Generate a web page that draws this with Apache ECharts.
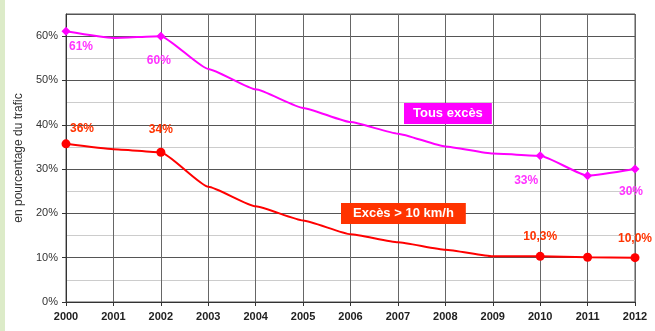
<!DOCTYPE html>
<html><head><meta charset="utf-8">
<script src="https://cdn.jsdelivr.net/npm/echarts@6/dist/echarts.min.js"></script>
<style>html,body{margin:0;padding:0;background:#fff}#c{width:655px;height:331px}</style>
</head><body><div id="c"></div>
<script>
const years = ['2000','2001','2002','2003','2004','2005','2006','2007','2008','2009','2010','2011','2012'];
const tousExces = [61.1, 59.6, 60.0, 52.6, 48.0, 43.8, 40.6, 38.0, 35.1, 33.5, 33.0, 28.5, 30.0];
const excesPlus10 = [35.7, 34.5, 33.8, 26.0, 21.6, 18.4, 15.3, 13.5, 11.8, 10.3, 10.3, 10.1, 10.0];
const tousLabels = ['61%', null, '60%', null, null, null, null, null, null, null, '33%', null, '30%'];
const excesLabels = ['36%', null, '34%', null, null, null, null, null, null, null, '10,3%', null, '10,0%'];
const tousMarkers = [1,0,1,0,0,0,0,0,0,0,1,1,1];
const excesMarkers = [1,0,1,0,0,0,0,0,0,0,1,1,1];

// label nudges (layout only)
const tousNudge = {0: [15, 0], 2: [-2, 9], 10: [-14, 9], 12: [-4, 7]};
const excesNudge = {0: [16, 0], 2: [0, -7], 10: [0, -4], 12: [0, -4]};

function build(vals, labels, markers, labelColor, pos, nudge) {
  return vals.map((v, i) => ({
    value: v,
    symbolSize: markers[i] ? 9 : 0,
    label: labels[i] ? {show: true, formatter: labels[i], position: pos, offset: nudge[i] || [0, 0],
      color: labelColor, fontFamily: 'Liberation Sans', fontSize: 12, fontWeight: 'bold'} : {show: false}
  }));
}

const chart = echarts.init(document.getElementById('c'));
chart.setOption({
  animation: false,
  backgroundColor: '#fff',
  grid: {left: 66, right: 20, top: 14, bottom: 29, show: true, borderColor: '#555', borderWidth: 1},
  xAxis: {
    type: 'category', data: years, boundaryGap: false,
    axisLine: {lineStyle: {color: '#333'}},
    axisTick: {show: true, lineStyle: {color: '#333'}, length: 4},
    axisLabel: {color: '#222', fontFamily: 'Liberation Sans', fontSize: 11, fontWeight: 'bold', margin: 9},
    splitLine: {show: true, lineStyle: {color: '#666', width: 1}}
  },
  yAxis: {
    type: 'value', min: 0, max: 65, interval: 10,
    name: 'en pourcentage du trafic', nameLocation: 'middle', nameGap: 41, nameRotate: 90,
    nameTextStyle: {color: '#333', fontFamily: 'Liberation Sans', fontSize: 12},
    axisLine: {show: true, lineStyle: {color: '#333'}},
    axisTick: {show: true, lineStyle: {color: '#333'}, length: 4},
    axisLabel: {color: '#333', fontFamily: 'Liberation Sans', fontSize: 11, showMaxLabel: false,
      formatter: v => (v % 10 === 0 ? v + '%' : ''), margin: 8},
    splitLine: {show: true, lineStyle: {color: '#555', width: 1}},
    minorTick: {show: false, splitNumber: 2},
    minorSplitLine: {show: true, lineStyle: {color: '#ccc', width: 1}}
  },
  series: [
    {type: 'line', data: build(tousExces, tousLabels, tousMarkers, '#ff33ff', 'bottom', tousNudge),
     smooth: 0.15, smoothMonotone: 'x', symbol: 'diamond', showAllSymbol: true,
     lineStyle: {color: '#ff00ff', width: 2}, itemStyle: {color: '#ff00ff'}},
    {type: 'line', data: build(excesPlus10, excesLabels, excesMarkers, '#ff3300', 'top', excesNudge),
     smooth: 0.15, smoothMonotone: 'x', symbol: 'circle', showAllSymbol: true,
     lineStyle: {color: '#ff0000', width: 2}, itemStyle: {color: '#ff0000'}}
  ],
  graphic: [
    {type: 'rect', left: 0, top: 0, z: 100, shape: {width: 5, height: 331}, style: {fill: '#dcebc8'}},
    {type: 'text', left: 404, top: 103, z: 100, style: {text: 'Tous excès', fill: '#fff', backgroundColor: '#ff00ff',
      padding: [4, 9], font: 'bold 13px "Liberation Sans"'}},
    {type: 'text', left: 341, top: 203, z: 100, style: {text: 'Excès > 10 km/h', fill: '#fff', backgroundColor: '#ff3300',
      padding: [4, 12], font: 'bold 13px "Liberation Sans"'}}
  ]
});
</script></body></html>
